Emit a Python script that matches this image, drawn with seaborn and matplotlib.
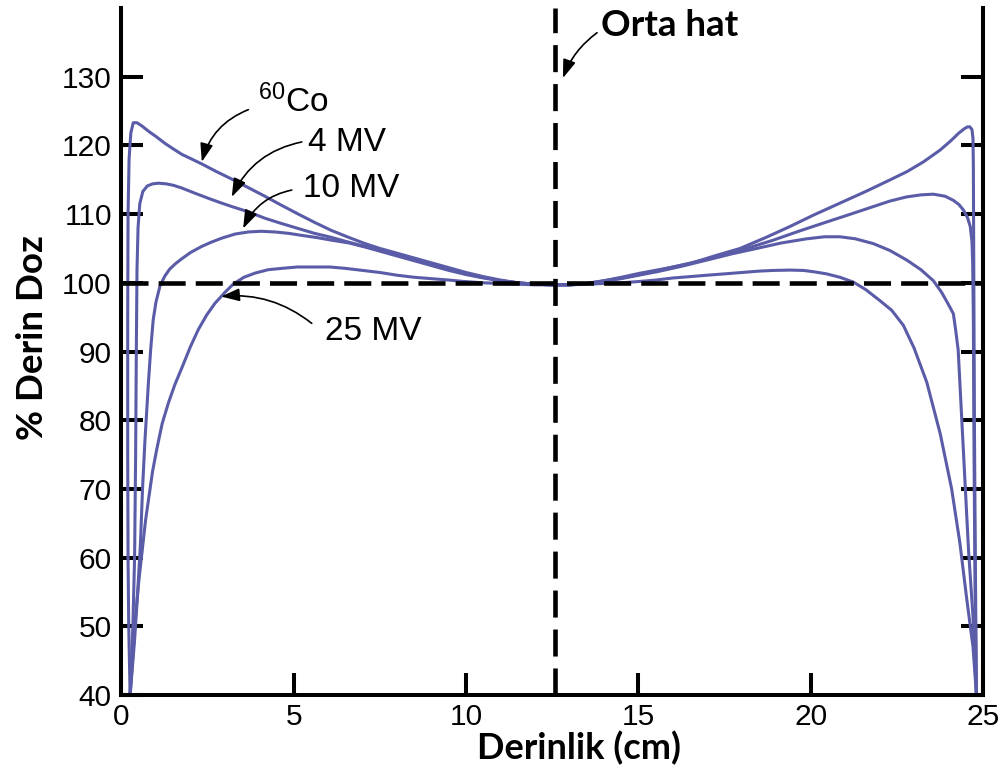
import matplotlib
matplotlib.use("Agg")
import matplotlib.pyplot as plt
import pandas as pd
import seaborn as sns

# ---------------- data ----------------
co60_x = [0.25, 0.21, 0.19, 0.18, 0.18, 0.19, 0.22, 0.27, 0.34, 0.45, 0.6, 0.8, 1.0, 1.26, 1.5,
          1.75, 2.0, 2.33, 2.75, 3.2, 3.7, 4.16, 4.6, 5.13, 5.6, 6.1, 6.6, 7.07, 7.5, 8.0, 8.5,
          9.0, 9.5, 10.0, 10.5, 11.0, 11.5, 12.0, 12.5, 13.0, 13.5, 14.0, 14.5, 15.05, 15.8,
          16.5, 17.2, 17.95, 18.7, 19.4, 20.1, 20.85, 21.6, 22.31, 22.8, 23.27, 23.75, 24.05,
          24.3, 24.45, 24.55, 24.62, 24.68, 24.71, 24.72, 24.73, 24.75, 24.78, 24.81]
co60_y = [40, 50, 60, 75, 95, 110, 118, 121.8, 123.3, 123.3, 122.8, 122.0, 121.3, 120.3, 119.5,
          118.7, 118.1, 117.3, 116.2, 115.1, 113.8, 112.6, 111.4, 110.0, 108.8, 107.6, 106.6,
          105.7, 105.0, 104.3, 103.6, 102.9, 102.2, 101.5, 100.9, 100.4, 100.0, 99.8, 99.7,
          99.7, 99.9, 100.3, 100.8, 101.4, 102.1, 102.8, 103.9, 105.0, 106.6, 108.2, 109.9,
          111.6, 113.3, 115.0, 116.2, 117.6, 119.3, 120.6, 121.8, 122.4, 122.7, 122.7, 122.3,
          121.0, 117, 105, 80, 58, 40]

mv4_x = [0.25, 0.33, 0.38, 0.41, 0.43, 0.45, 0.48, 0.53, 0.62, 0.75, 0.9, 1.07, 1.3, 1.5, 1.75,
         2.1, 2.52, 2.85, 3.2, 3.7, 4.16, 4.6, 5.13, 5.6, 6.1, 6.6, 7.07, 7.5, 8.0, 8.5, 9.0,
         9.5, 10.0, 10.5, 11.0, 11.5, 12.0, 12.5, 13.0, 13.5, 14.0, 14.5, 15.05, 16.01, 16.7,
         17.46, 18.2, 18.91, 19.65, 20.37, 21.1, 21.82, 22.3, 22.78, 23.2, 23.56, 23.9, 24.14,
         24.3, 24.43, 24.55, 24.63, 24.68, 24.7, 24.72, 24.74, 24.77, 24.81]
mv4_y = [40, 50, 60, 75, 90, 102, 108, 111.5, 113.3, 114.1, 114.4, 114.5, 114.4, 114.2, 113.8,
         113.1, 112.3, 111.7, 111.1, 110.3, 109.4, 108.7, 107.9, 107.2, 106.6, 105.9, 105.3,
         104.7, 104.1, 103.4, 102.7, 102.0, 101.3, 100.8, 100.3, 100.0, 99.8, 99.7, 99.7, 99.9,
         100.3, 100.7, 101.2, 102.3, 103.1, 104.0, 105.1, 106.2, 107.5, 108.7, 109.9, 111.1,
         111.9, 112.5, 112.8, 112.9, 112.6, 112.0, 111.4, 110.6, 109.5, 108.2, 106, 103, 95,
         75, 55, 40]

mv10_x = [0.25, 0.38, 0.47, 0.55, 0.61, 0.68, 0.78, 0.85, 0.92, 1.0, 1.12, 1.26, 1.4, 1.57, 1.75,
          2.0, 2.33, 2.6, 2.91, 3.3, 3.68, 4.05, 4.45, 4.85, 5.23, 5.65, 6.1, 6.6, 7.07, 7.5,
          8.0, 8.5, 9.0, 9.5, 10.0, 10.5, 11.0, 11.5, 12.0, 12.5, 13.0, 13.5, 14.0, 14.5, 15.0,
          15.53, 16.25, 16.98, 17.7, 18.43, 19.15, 19.88, 20.4, 20.85, 21.3, 21.82, 22.3, 22.79,
          23.2, 23.56, 23.8, 23.98, 24.14, 24.21, 24.28, 24.38, 24.48, 24.58, 24.71, 24.81]
mv10_y = [40, 48, 55, 62, 70, 77, 85.4, 90.5, 94.6, 97.2, 99.6, 101.0, 102.0, 102.8, 103.5,
          104.4, 105.3, 105.9, 106.5, 107.1, 107.4, 107.5, 107.4, 107.2, 106.9, 106.6, 106.2,
          105.8, 105.2, 104.6, 103.9, 103.2, 102.5, 101.8, 101.2, 100.7, 100.3, 100.0, 99.8,
          99.7, 99.7, 99.9, 100.2, 100.6, 101.1, 101.6, 102.4, 103.3, 104.2, 105.0, 105.8,
          106.4, 106.7, 106.7, 106.4, 105.7, 104.7, 103.3, 101.9, 100.3, 98.6, 97.0, 95.5,
          93.0, 90.2, 80.5, 70.8, 61.1, 51.4, 40]

mv25_x = [0.25, 0.32, 0.4, 0.5, 0.6, 0.7, 0.8, 0.9, 1.02, 1.18, 1.36, 1.55, 1.75, 2.0, 2.23,
          2.47, 2.71, 3.0, 3.24, 3.55, 3.87, 4.25, 4.65, 5.1, 5.52, 6.05, 6.5, 7.0, 7.5, 8.0,
          8.5, 9.0, 9.5, 9.92, 10.5, 11.0, 11.5, 12.0, 12.5, 13.0, 13.5, 14.0, 14.5, 15.05,
          15.5, 16.0, 16.5, 16.98, 17.5, 18.0, 18.5, 18.91, 19.4, 19.79, 20.1, 20.46, 20.85,
          21.24, 21.6, 22.01, 22.35, 22.69, 23.0, 23.37, 23.76, 24.09, 24.33, 24.52, 24.71, 24.81]
mv25_y = [40, 45, 51, 56.5, 61, 65.5, 69, 72.5, 75.7, 79.5, 82.5, 85.2, 87.6, 90.7, 93.2, 95.3,
          97.0, 98.6, 99.8, 100.8, 101.4, 101.9, 102.1, 102.3, 102.3, 102.3, 102.1, 101.8,
          101.5, 101.1, 100.8, 100.6, 100.4, 100.2, 100.0, 99.9, 99.8, 99.7, 99.7, 99.7, 99.8,
          99.9, 100.0, 100.2, 100.4, 100.7, 100.9, 101.1, 101.3, 101.5, 101.7, 101.8, 101.85,
          101.8, 101.6, 101.3, 100.8, 100.1, 99.0, 97.4, 96.0, 93.8, 90.5, 85.5, 78.0, 70.0,
          62.1, 54.3, 47.0, 40]

beam_names = ["60Co", "4 MV", "10 MV", "25 MV"]
x_ticks = [0, 5, 10, 15, 20, 25]
y_ticks = [40, 50, 60, 70, 80, 90, 100, 110, 120, 130]
REF_DOSE = 100
MIDLINE = 12.58

# annotation labels: (text, text position, arrow tail, arrow tip, curvature)
labels = [
    (r"$^{60}$Co", (3.96, 124.86), (3.68, 125.2), (2.33, 117.6), 0.25),
    ("4 MV", (5.41, 119.19), (5.23, 120.5), (3.20, 112.5), 0.25),
    ("10 MV", (5.27, 112.49), (4.94, 113.5), (3.53, 107.9), 0.25),
    ("25 MV", (5.91, 91.67), (5.52, 94.1), (2.89, 98.0), 0.2),
]
midline_label = ("Orta hat", (13.92, 135.92), (13.80, 136.4), (12.81, 129.8), 0.15)

# ---------------- styling ----------------
sns.set_theme(style="white")
plt.rcParams["font.family"] = ["Liberation Sans", "DejaVu Sans"]
plt.rcParams["mathtext.fontset"] = "custom"
plt.rcParams["mathtext.rm"] = "Liberation Sans"
plt.rcParams["mathtext.it"] = "Liberation Sans:italic"
plt.rcParams["mathtext.bf"] = "Liberation Sans:bold"

LINE_COLOR = "#5a5ca8"
BOLD_FONT = ["Lato", "DejaVu Sans"]

df = pd.concat([
    pd.DataFrame({"x": xs, "y": ys, "beam": name})
    for name, xs, ys in zip(beam_names,
                            [co60_x, mv4_x, mv10_x, mv25_x],
                            [co60_y, mv4_y, mv10_y, mv25_y])
], ignore_index=True)

W, H = 1003, 767
fig = plt.figure(figsize=(W / 100, H / 100), dpi=100)
ax = fig.add_axes([121.5 / W, 1 - 695 / H, (983 - 121.5) / W, 687 / H])

sns.lineplot(data=df, x="x", y="y", hue="beam", palette=[LINE_COLOR] * 4,
             sort=False, estimator=None, legend=False, linewidth=2.2, ax=ax, zorder=2)

lw_dash = 3.3
ax.axhline(REF_DOSE, color="black", lw=lw_dash, dashes=(5.9, 2.2), zorder=3)
ax.axvline(MIDLINE, color="black", lw=lw_dash, dashes=(5.9, 2.6), zorder=3)

ax.set_xlim(0, 25)
ax.set_ylim(40, 140)
ax.set_xticks(x_ticks)
ax.set_yticks(y_ticks)
ax.set_xticklabels([str(t) for t in x_ticks])
ax.set_yticklabels([str(t) for t in y_ticks])

for side in ["left", "right", "bottom"]:
    ax.spines[side].set_visible(True)
    ax.spines[side].set_linewidth(2.9)
    ax.spines[side].set_color("black")
ax.spines["top"].set_visible(False)

ax.tick_params(axis="both", direction="in", length=16, width=2.9, labelsize=21.5,
               colors="black", pad=7)
ax.tick_params(axis="y", left=True, right=True, labelright=False)
ax.tick_params(axis="x", bottom=True, top=False, pad=5.5)

ax.set_xlabel("Derinlik (cm)", fontfamily=BOLD_FONT, fontweight="bold", fontsize=26,
              color="black", va="baseline")
ax.xaxis.set_label_coords(0.531, -0.0935)
ax.set_ylabel("% Derin Doz", fontfamily=BOLD_FONT, fontweight="bold", fontsize=26.5,
              color="black", va="baseline")
ax.yaxis.set_label_coords(-0.0908, 0.521)

arrow_kw = dict(arrowstyle="-|>,head_length=0.8,head_width=0.28", color="black",
                lw=1.2, mutation_scale=14, shrinkA=0, shrinkB=0)

for text, tpos, tail, tip, rad in labels:
    ax.text(tpos[0], tpos[1], text, fontsize=24, color="black", ha="left", va="baseline")
    ax.annotate("", xy=tip, xytext=tail,
                arrowprops=dict(connectionstyle=f"arc3,rad={rad}", **arrow_kw))

text, tpos, tail, tip, rad = midline_label
ax.text(tpos[0], tpos[1], text, fontsize=26.5, fontfamily=BOLD_FONT, fontweight="bold",
        color="black", ha="left", va="baseline")
ax.annotate("", xy=tip, xytext=tail,
            arrowprops=dict(connectionstyle=f"arc3,rad={rad}", **arrow_kw))

fig.savefig("out.png", dpi=100, facecolor="white")
